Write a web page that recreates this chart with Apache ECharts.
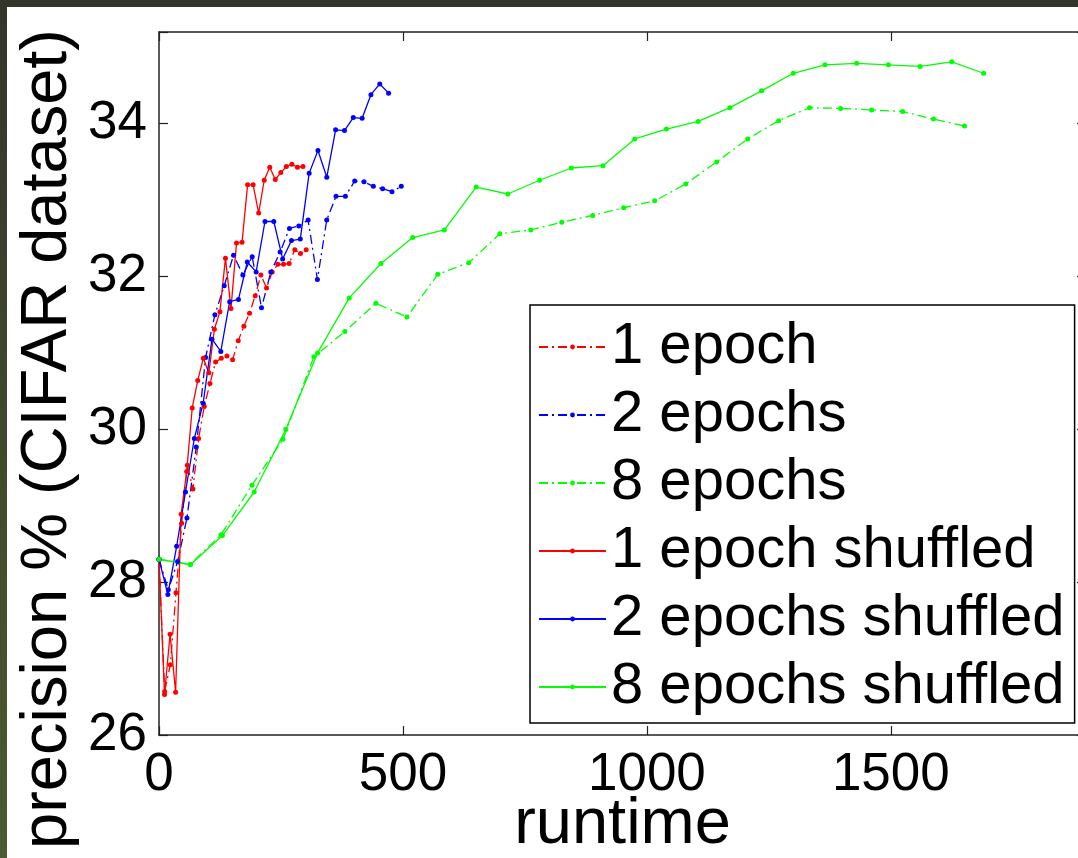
<!DOCTYPE html>
<html>
<head>
<meta charset="utf-8">
<script src="https://cdn.jsdelivr.net/npm/echarts@6/dist/echarts.min.js"></script>
<style>
  html, body { margin: 0; padding: 0; width: 1078px; height: 858px; overflow: hidden; background: #34352a; }
  #edge { position: absolute; left: 0; top: 0; width: 7px; height: 858px; background: linear-gradient(#34352a, #4b5b2f); }
  #chart { position: absolute; left: 7px; top: 7px; width: 1100px; height: 851px; background: #ffffff; }
</style>
</head>
<body>
<div id="edge"></div>
<div id="chart"></div>
<script>
// Runtime (x) and precision % (y) for each training run
const runtime1 = [0, 11.6, 23.2, 34.8, 46.4, 58, 69.6, 81.2, 92.8, 104.4, 116, 127.6, 139.2, 150.8, 162.4, 174, 185.6, 197.2, 208.8, 220.4, 232, 243.6, 255.2, 266.8, 278.4, 290, 301.6];
const prec1 = [28.30, 26.57, 26.92, 27.86, 28.77, 29.53, 29.22, 29.88, 30.30, 30.60, 30.88, 30.93, 30.96, 30.91, 31.16, 31.35, 31.52, 31.75, 32.02, 31.85, 32.06, 32.16, 32.16, 32.17, 32.35, 32.30, 32.35];

const runtime2 = [0, 19.1, 38.2, 57.3, 76.4, 95.5, 114.6, 133.7, 152.8, 171.9, 191, 210.1, 229.2, 248.3, 267.4, 286.5, 305.6, 324.7, 343.8, 362.9, 382, 401.1, 420.2, 439.3, 458.4, 477.5, 496.6];
const prec2 = [28.30, 27.90, 28.27, 28.84, 29.77, 30.94, 31.50, 31.88, 32.28, 32.02, 32.26, 31.59, 32.06, 32.32, 32.63, 32.66, 32.74, 31.96, 32.74, 33.05, 33.05, 33.25, 33.24, 33.18, 33.15, 33.11, 33.18];

const runtime8 = [0, 63.5, 127, 190.5, 254, 317.5, 381, 444.5, 508, 571.5, 635, 698.5, 762, 825.5, 889, 952.5, 1016, 1079.5, 1143, 1206.5, 1270, 1333.5, 1397, 1460.5, 1524, 1587.5, 1651];
const prec8 = [28.30, 28.23, 28.62, 29.27, 29.87, 30.95, 31.28, 31.65, 31.47, 32.03, 32.18, 32.56, 32.61, 32.71, 32.80, 32.90, 32.99, 33.21, 33.50, 33.80, 34.04, 34.21, 34.20, 34.18, 34.16, 34.06, 33.97];

const runtime1s = [0, 11.35, 22.7, 34.05, 45.4, 56.75, 68.1, 79.45, 90.8, 102.15, 113.5, 124.85, 136.2, 147.55, 158.9, 170.25, 181.6, 192.95, 204.3, 215.65, 227, 238.35, 249.7, 261.05, 272.4, 283.75, 295.1];
const prec1s = [28.30, 26.53, 27.32, 26.56, 28.89, 29.45, 30.28, 30.64, 30.93, 30.74, 31.31, 31.54, 32.24, 31.58, 32.44, 32.45, 33.20, 33.20, 32.83, 33.26, 33.43, 33.27, 33.36, 33.44, 33.47, 33.43, 33.44];

const runtime2s = [0, 18.1, 36.2, 54.3, 72.4, 90.5, 108.6, 126.7, 144.8, 162.9, 181, 199.1, 217.2, 235.3, 253.4, 271.5, 289.6, 307.7, 325.8, 343.9, 362, 380.1, 398.2, 416.3, 434.4, 452.5, 470.6];
const prec2s = [28.30, 27.84, 28.47, 29.18, 29.88, 30.34, 31.18, 31.02, 31.67, 31.70, 32.19, 32.06, 32.72, 32.72, 32.23, 32.47, 32.49, 33.35, 33.65, 33.30, 33.92, 33.91, 34.08, 34.07, 34.38, 34.52, 34.40];

const runtime8s = [0, 65, 130, 195, 260, 325, 390, 455, 520, 585, 650, 715, 780, 845, 910, 975, 1040, 1105, 1170, 1235, 1300, 1365, 1430, 1495, 1560, 1625, 1690];
const prec8s = [28.30, 28.23, 28.61, 29.18, 30.00, 31.00, 31.72, 32.17, 32.51, 32.61, 33.17, 33.08, 33.26, 33.42, 33.45, 33.80, 33.93, 34.03, 34.21, 34.43, 34.66, 34.77, 34.79, 34.77, 34.75, 34.81, 34.66];

const seriesNames = ['1 epoch', '2 epochs', '8 epochs', '1 epoch shuffled', '2 epochs shuffled', '8 epochs shuffled'];
const xTicks = [0, 500, 1000, 1500];
const yTicks = [26, 28, 30, 32, 34];

const FONT = '"Liberation Sans", Arial, Helvetica, sans-serif';
const AXIS_COLOR = '#222222';
const DASH_DOT = [9, 4, 2, 4];

function pairs(xs, ys) {
  return xs.map((x, i) => [x, ys[i]]);
}

function lineSeries(name, xs, ys, color, dashed) {
  return {
    name: name,
    type: 'line',
    xAxisIndex: 0,
    yAxisIndex: 0,
    data: pairs(xs, ys),
    symbol: 'circle',
    symbolSize: 5,
    showSymbol: true,
    color: color,
    itemStyle: { color: color },
    lineStyle: { color: color, width: 1.3, type: dashed ? DASH_DOT : 'solid' },
    emphasis: { disabled: true },
    animation: false,
    z: 2
  };
}

const chart = echarts.init(document.getElementById('chart'), null, { renderer: 'canvas' });

const tickStyle = { inside: true, length: 9, lineStyle: { color: AXIS_COLOR, width: 1.2 } };
const lineStyleAxis = { show: true, onZero: false, lineStyle: { color: AXIS_COLOR, width: 1.5 } };

chart.setOption({
  animation: false,
  backgroundColor: '#ffffff',
  grid: { left: 152, top: 25, width: 927, height: 703, containLabel: false, outerBoundsMode: 'none' },
  xAxis: [
    {
      type: 'value', position: 'bottom', min: 0, max: 1900, interval: 500,
      axisLine: lineStyleAxis, axisTick: tickStyle, splitLine: { show: false },
      axisLabel: {
        color: '#000', fontSize: 53, fontFamily: FONT, margin: 14,
        formatter: v => (xTicks.indexOf(v) >= 0 ? String(v) : '')
      },
      name: 'runtime', nameLocation: 'middle', nameGap: 58, nameMoveOverlap: false,
      nameTextStyle: { color: '#000', fontSize: 65, fontFamily: FONT }
    },
    {
      type: 'value', position: 'top', min: 0, max: 1900, interval: 500,
      axisLine: lineStyleAxis, axisTick: tickStyle, splitLine: { show: false },
      axisLabel: { show: false }
    }
  ],
  yAxis: [
    {
      type: 'value', position: 'left', min: 26, max: 35.2, interval: 2,
      axisLine: lineStyleAxis, axisTick: tickStyle, splitLine: { show: false },
      axisLabel: {
        color: '#000', fontSize: 53, fontFamily: FONT, margin: 12,
        formatter: v => (yTicks.indexOf(v) >= 0 ? String(v) : '')
      }
    },
    {
      type: 'value', position: 'right', min: 26, max: 35.2, interval: 2,
      axisLine: lineStyleAxis, axisTick: tickStyle, splitLine: { show: false },
      axisLabel: { show: false }
    }
  ],
  legend: {
    data: seriesNames,
    orient: 'vertical',
    left: 523,
    top: 298,
    padding: [12, 10, 6, 8],
    itemWidth: 67,
    itemHeight: 6,
    itemGap: 8,
    backgroundColor: '#ffffff',
    borderColor: '#000000',
    borderWidth: 1.5,
    borderRadius: 0,
    selectedMode: false,
    textStyle: { color: '#000', fontSize: 58, lineHeight: 60, fontFamily: FONT }
  },
  graphic: [
    {
      type: 'text',
      x: 41,
      y: 432,
      rotation: Math.PI / 2,
      style: {
        text: 'precision % (CIFAR dataset)',
        fontSize: 65,
        fontFamily: FONT,
        fill: '#000',
        align: 'center',
        verticalAlign: 'middle'
      }
    }
  ],
  series: [
    lineSeries(seriesNames[0], runtime1, prec1, '#ff0000', true),
    lineSeries(seriesNames[1], runtime2, prec2, '#0000ff', true),
    lineSeries(seriesNames[2], runtime8, prec8, '#00ff00', true),
    lineSeries(seriesNames[3], runtime1s, prec1s, '#ff0000', false),
    lineSeries(seriesNames[4], runtime2s, prec2s, '#0000ff', false),
    lineSeries(seriesNames[5], runtime8s, prec8s, '#00ff00', false)
  ]
});
</script>
</body>
</html>
